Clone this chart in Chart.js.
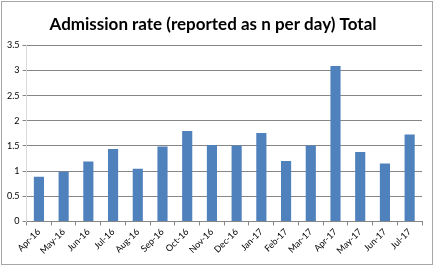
<!DOCTYPE html>
<html lang="en">
<head>
<meta charset="UTF-8">
<script src="https://cdn.jsdelivr.net/npm/chart.js"></script>
<style>
  body { margin: 0; background: #fff; }
  #box { position: absolute; left: 1px; top: 1px; width: 430px; height: 262px; border: 1px solid #a6a6a6; }
</style>
</head>
<body>
<div id="box"><canvas id="myChart" width="430" height="262"></canvas></div>
<script>
  // data
  const months = ['Apr-16','May-16','Jun-16','Jul-16','Aug-16','Sep-16','Oct-16','Nov-16',
                  'Dec-16','Jan-17','Feb-17','Mar-17','Apr-17','May-17','Jun-17','Jul-17']
  const admissions = [0.89, 0.99, 1.19, 1.44, 1.05, 1.49, 1.80, 1.52,
                      1.51, 1.76, 1.20, 1.51, 3.09, 1.38, 1.15, 1.73]
  const chartTitle = 'Admission rate (reported as n per day) Total'

  new Chart(document.getElementById('myChart'), {
    type: 'bar',
    data: {
      labels: months,
      datasets: [{
        data: admissions,
        backgroundColor: '#4f81bd',
        borderWidth: 0,
        barPercentage: 0.41,
        categoryPercentage: 1
      }]
    },
    options: {
      responsive: false,
      animation: false,
      layout: { padding: { left: 2, right: 10, top: 4, bottom: 7 } },
      plugins: {
        legend: { display: false },
        tooltip: { enabled: false },
        title: {
          display: true,
          text: chartTitle,
          color: '#000',
          font: { family: 'Lato', size: 17, weight: 'bold' },
          padding: { top: 8, bottom: 11 }
        }
      },
      scales: {
        x: {
          grid: { offset: true, drawOnChartArea: false, color: '#868686', tickLength: 4 },
          border: { color: '#868686' },
          ticks: { color: '#000', font: { family: 'Lato', size: 9 }, maxRotation: 45, minRotation: 45, padding: 1 }
        },
        y: {
          min: 0, max: 3.5,
          grid: { color: '#868686', tickLength: 4 },
          border: { color: '#d9d9d9' },
          ticks: {
            stepSize: 0.5, color: '#000', font: { family: 'Lato', size: 9 }, padding: 3,
            callback: v => String(v)
          }
        }
      }
    }
  })
</script>
</body>
</html>
